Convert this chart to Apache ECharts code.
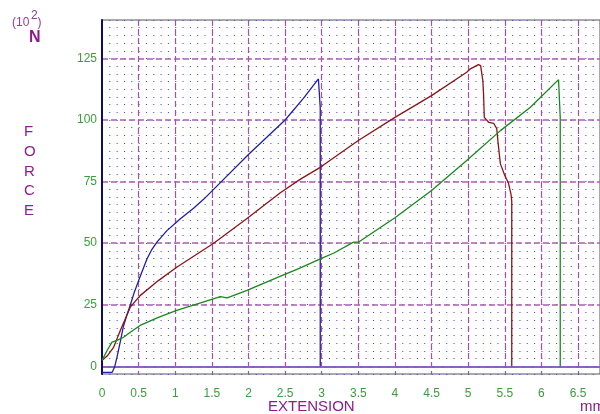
<!DOCTYPE html>
<html>
<head>
<meta charset="utf-8">
<script src="https://cdn.jsdelivr.net/npm/echarts@6/dist/echarts.min.js"></script>
<style>
  html, body { margin: 0; padding: 0; background: #fff; }
  #main { width: 600px; height: 414px; }
</style>
</head>
<body>
<div id="main"></div>
<script>
// Tensile test: force (x100 N) versus extension (mm) for three specimens.
const xTicksStep = 0.5;          // major extension gridlines, mm
const forceTicksStep = 25;       // major force gridlines, x100 N
const forceRange = [-3.125, 140.625];
const extensionRange = [0, 6.8];

// specimen curves as [extension mm, force x100 N]
const specimenBlue = [
  [0, -2.5], [0.137, -2.5], [0.17, -0.5], [0.205, 3.7], [0.25, 10], [0.29, 15.9],
  [0.34, 20.8], [0.385, 24.7], [0.44, 30], [0.5, 34.8], [0.614, 43.6], [0.68, 47.4],
  [0.75, 50.4], [0.887, 55.1], [1.07, 59.9], [1.25, 64.2], [1.387, 67.8], [1.63, 75],
  [2.0, 86], [2.5, 100], [2.75, 108.8], [2.955, 116.7], [2.98, 105], [2.98, 0]
];
const specimenRed = [
  [0, 2.4], [0.08, 4.5], [0.16, 7.8], [0.25, 14.5], [0.386, 24], [0.52, 28.7],
  [0.77, 34.8], [1.02, 40.2], [1.52, 49.9], [1.98, 60], [2.43, 70.4], [2.71, 76],
  [2.98, 80.8], [3.5, 91.7], [4.0, 101.1], [4.5, 109.9], [4.98, 119.4], [5.03, 120.8],
  [5.14, 122.5], [5.17, 122.1], [5.2, 116], [5.21, 110.6], [5.22, 101.1], [5.28, 99.1],
  [5.35, 98.6], [5.39, 96.5], [5.41, 90.3], [5.44, 82.2], [5.5, 77.5], [5.55, 74.4],
  [5.585, 69.8], [5.595, 67], [5.595, 0]
];
const specimenGreen = [
  [0, 2.4], [0.07, 6.4], [0.137, 9.8], [0.205, 10.5], [0.295, 11.8], [0.386, 13.8],
  [0.52, 16.6], [0.77, 19.9], [1.02, 22.7], [1.52, 27.4], [1.615, 28.3], [1.71, 27.8],
  [1.98, 30.8], [2.43, 36.5], [2.71, 40], [2.98, 43.6], [3.16, 45.9], [3.435, 50.4],
  [3.5, 50.4], [4.0, 60.3], [4.5, 71.4], [4.98, 83.6], [5.44, 95.7], [5.85, 105.2],
  [6.234, 116.4], [6.257, 101], [6.257, 0]
];

const purple = '#8e1c8e';
const labelGreen = '#3a9e3a';
const font = 'Liberation Sans, Arial, sans-serif';

const gridLeft = 102, gridRight = 0;
const plotWidth = 600 - gridLeft - gridRight;
// pixel spacing of the 0.1 mm dot columns
const dotStep = plotWidth / (extensionRange[1] - extensionRange[0]) * 0.1;

const chart = echarts.init(document.getElementById('main'), null, { renderer: 'canvas' });

function curve(name, data, color) {
  return {
    name, type: 'line', data, xAxisIndex: 0, yAxisIndex: 0,
    showSymbol: false, symbol: 'none', smooth: false,
    lineStyle: { color, width: 1.3 },
    z: 5
  };
}

chart.setOption({
  backgroundColor: '#ffffff',
  animation: false,
  grid: {
    left: gridLeft, right: gridRight, top: 20, bottom: 40,
    show: true, borderColor: '#555555', borderWidth: 1, backgroundColor: 'transparent'
  },
  xAxis: {
    type: 'value', min: extensionRange[0], max: extensionRange[1], interval: xTicksStep,
    axisLine: { onZero: true, lineStyle: { color: '#6a6acb', width: 2 } },
    axisTick: { show: false },
    axisLabel: { color: labelGreen, fontSize: 12, fontFamily: font, margin: 14, showMaxLabel: false },
    splitLine: {
      show: true, showMinLine: false, showMaxLine: false,
      lineStyle: { color: '#a650aa', type: [6, 3], width: 1.2 }
    }
  },
  yAxis: [
    {
      type: 'value', min: forceRange[0], max: forceRange[1],
      minInterval: forceTicksStep, maxInterval: forceTicksStep,
      axisLine: { show: true, onZero: false, lineStyle: { color: '#0a0a78', width: 2 } },
      axisTick: { show: false },
      axisLabel: { color: labelGreen, fontSize: 12, fontFamily: font, margin: 5,
                   showMinLabel: false, showMaxLabel: false },
      splitLine: {
        show: true, showMinLine: false, showMaxLine: false,
        lineStyle: { color: '#ae5cb0', type: [6, 3], width: 1.5 }
      },
      z: 3
    },
    {
      // dot lattice: rows every 3.125, dots every 0.1 mm
      type: 'value', min: forceRange[0], max: forceRange[1], interval: 3.125,
      position: 'right',
      axisLine: { show: false }, axisTick: { show: false }, axisLabel: { show: false },
      splitLine: {
        show: true,
        lineStyle: { color: '#3c3cf2', type: [1, dotStep - 1], width: 1 }
      }
    }
  ],
  series: [
    curve('blue', specimenBlue, '#1e1eaa'),
    curve('red', specimenRed, '#8e1414'),
    curve('green', specimenGreen, '#168a16')
  ],
  graphic: [
    { type: 'text', left: 12, top: 17, style: { text: '(10', fontSize: 12, fontFamily: font, fill: '#9a3a9a' } },
    { type: 'text', left: 31, top: 10, style: { text: '2', fontSize: 12, fontFamily: font, fill: '#9a3a9a' } },
    { type: 'text', left: 37.5, top: 17, style: { text: ')', fontSize: 12, fontFamily: font, fill: '#9a3a9a' } },
    { type: 'text', left: 29, top: 30, style: { text: 'N', fontSize: 16, fontWeight: 'bold', fontFamily: font, fill: purple } },
    { type: 'text', left: 24, top: 122,
      style: { text: 'F\nO\nR\nC\nE', fontSize: 15, lineHeight: 19.8, align: 'center', fontFamily: font, fill: purple } },
    { type: 'text', left: 268, top: 399, style: { text: 'EXTENSION', fontSize: 15, fontFamily: font, fill: purple } },
    { type: 'text', left: 580, top: 399, style: { text: 'mm', fontSize: 15, fontFamily: font, fill: purple } }
  ]
});
</script>
</body>
</html>
